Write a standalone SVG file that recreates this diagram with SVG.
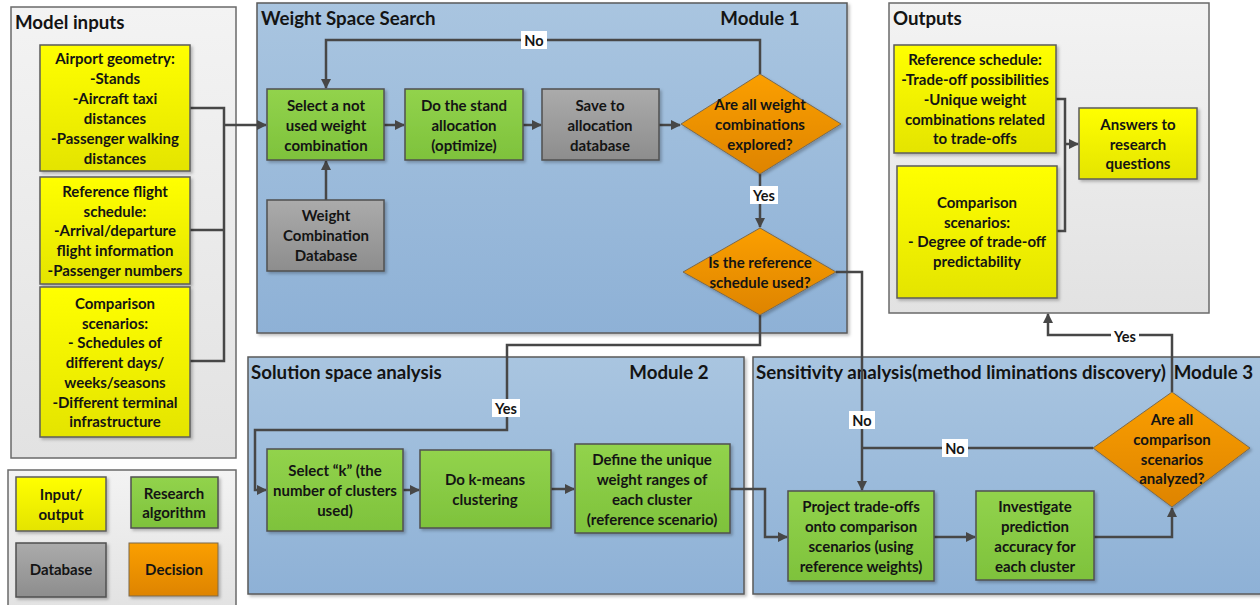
<svg xmlns="http://www.w3.org/2000/svg" width="1260" height="605" viewBox="0 0 1260 605">
  <defs>
    <linearGradient id="gYellow" x1="0" y1="0" x2="0" y2="1">
      <stop offset="0" stop-color="#ffff00"/>
      <stop offset="1" stop-color="#e4e400"/>
    </linearGradient>
    <linearGradient id="gGreen" x1="0" y1="0" x2="0" y2="1">
      <stop offset="0" stop-color="#92d34c"/>
      <stop offset="1" stop-color="#7ec23c"/>
    </linearGradient>
    <linearGradient id="gGray" x1="0" y1="0" x2="0" y2="1">
      <stop offset="0" stop-color="#ababab"/>
      <stop offset="1" stop-color="#8d8d8d"/>
    </linearGradient>
    <linearGradient id="gOrange" x1="0" y1="0" x2="0" y2="1">
      <stop offset="0" stop-color="#fb9f00"/>
      <stop offset="1" stop-color="#de8400"/>
    </linearGradient>
    <linearGradient id="gBlue" x1="0" y1="0" x2="0" y2="1">
      <stop offset="0" stop-color="#a9c5e0"/>
      <stop offset="1" stop-color="#8eb1d6"/>
    </linearGradient>
    <linearGradient id="gPanel" x1="0" y1="0" x2="0" y2="1">
      <stop offset="0" stop-color="#f3f3f3"/>
      <stop offset="1" stop-color="#e2e2e2"/>
    </linearGradient>
    <filter id="shadow" x="-10%" y="-10%" width="130%" height="130%">
      <feDropShadow dx="2" dy="2" stdDeviation="1.5" flood-color="#000" flood-opacity="0.25"/>
    </filter>
    <marker id="arrow" viewBox="0 0 10 10" refX="9" refY="5" markerWidth="4" markerHeight="4" orient="auto" markerUnits="strokeWidth">
      <path d="M0,0 L10,5 L0,10 z" fill="#474747"/>
    </marker>
  </defs>
  <style>
    text { font-family: Lato, "Liberation Sans", sans-serif; font-weight: bold; fill: #141414; }
    .t { font-size: 15px; text-anchor: middle; dominant-baseline: central; }
    .title { font-size: 18.7px; dominant-baseline: central; }
    .lbl { font-size: 14.5px; text-anchor: middle; dominant-baseline: central; }
    .panel { fill: url(#gPanel); stroke: #6a6a6a; stroke-width: 1.5; }
    .module { fill: url(#gBlue); stroke: #5a5a5a; stroke-width: 1.5; filter: url(#shadow); }
    .io { fill: url(#gYellow); stroke: #5c5c5c; stroke-width: 1.5; filter: url(#shadow); }
    .alg { fill: url(#gGreen); stroke: #505050; stroke-width: 1.5; filter: url(#shadow); }
    .db { fill: url(#gGray); stroke: #505050; stroke-width: 1.5; filter: url(#shadow); }
    .dec { fill: url(#gOrange); stroke: #7a6a50; stroke-width: 1; filter: url(#shadow); }
    .c { fill: none; stroke: #474747; stroke-width: 2.5; }
    .ca { fill: none; stroke: #474747; stroke-width: 2.5; marker-end: url(#arrow); }
    .lblbg { fill: #ffffff; }
  </style>

  <!-- Containers -->
  <g id="model-inputs-panel">
    <rect class="panel" x="11" y="7" width="225" height="451"/>
    <text class="title" x="15" y="22">Model inputs</text>
  </g>
  <g id="legend-panel">
    <rect class="panel" x="8" y="470" width="228" height="140"/>
  </g>
  <g id="module1">
    <rect class="module" x="257" y="3" width="590" height="330"/>
    <text class="title" x="261" y="18">Weight Space Search</text>
    <text class="title" x="760" y="18" text-anchor="middle">Module 1</text>
  </g>
  <g id="outputs-panel">
    <rect class="panel" x="889" y="3" width="320" height="310"/>
    <text class="title" x="893" y="18">Outputs</text>
  </g>
  <g id="module2">
    <rect class="module" x="248" y="357" width="496" height="237"/>
    <text class="title" x="251" y="372">Solution space analysis</text>
    <text class="title" x="669" y="372" text-anchor="middle">Module 2</text>
  </g>
  <g id="module3">
    <rect class="module" x="753" y="357" width="515" height="237"/>
    <text class="title" x="756" y="372">Sensitivity analysis(method liminations discovery)</text>
    <text class="title" x="1253" y="372" text-anchor="end">Module 3</text>
  </g>

  <!-- Connectors -->
  <g id="connectors">
    <!-- model inputs merge -->
    <polyline class="c" points="190,108 224,108 224,361 190,361"/>
    <line class="c" x1="190" y1="230" x2="224" y2="230"/>
    <line class="ca" x1="224" y1="125" x2="266" y2="125"/>
    <!-- module 1 -->
    <line class="ca" x1="384" y1="125" x2="404" y2="125"/>
    <line class="ca" x1="523" y1="125" x2="541" y2="125"/>
    <line class="ca" x1="659" y1="125" x2="680" y2="125"/>
    <line class="ca" x1="326" y1="200" x2="326" y2="161"/>
    <polyline class="ca" points="760,74 760,40 326,40 326,88"/>
    <line class="ca" x1="760" y1="174" x2="760" y2="227"/>
    <!-- reference schedule used? -->
    <polyline class="ca" points="760,315 760,345 507,345 507,430 255,430 255,490 266,490"/>
    <polyline class="ca" points="836,272 862,272 862,490"/>
    <!-- module 2 -->
    <line class="ca" x1="403" y1="490" x2="419" y2="490"/>
    <line class="ca" x1="551" y1="489" x2="574" y2="489"/>
    <polyline class="ca" points="730,489 765,489 765,537 787,537"/>
    <!-- module 3 -->
    <line class="ca" x1="934" y1="537" x2="975" y2="537"/>
    <polyline class="ca" points="1094,537 1172,537 1172,508"/>
    <polyline class="c" points="1093,448 862,448"/>
    <polyline class="ca" points="1172,392 1172,335 1048,335 1048,314"/>
    <!-- outputs merge -->
    <polyline class="c" points="1056,99 1065,99 1065,231 1057,231"/>
    <line class="ca" x1="1065" y1="144" x2="1078" y2="144"/>
    <!-- branch labels -->
    <rect class="lblbg" x="521" y="31" width="26" height="18"/>
    <text class="lbl" x="534" y="40">No</text>
    <rect class="lblbg" x="750" y="186" width="28" height="18"/>
    <text class="lbl" x="764" y="195">Yes</text>
    <rect class="lblbg" x="492" y="399" width="28" height="18"/>
    <text class="lbl" x="506" y="408">Yes</text>
    <rect class="lblbg" x="849" y="411" width="26" height="18"/>
    <text class="lbl" x="862" y="420">No</text>
    <rect class="lblbg" x="942" y="439" width="26" height="18"/>
    <text class="lbl" x="955" y="448">No</text>
    <rect class="lblbg" x="1111" y="327" width="28" height="18"/>
    <text class="lbl" x="1125" y="336">Yes</text>
  </g>

  <!-- Model inputs -->
  <g id="airport-geometry">
    <rect class="io" x="40" y="45" width="150" height="126"/>
    <text class="t" x="115" y="58">Airport geometry:</text>
    <text class="t" x="115" y="78">-Stands</text>
    <text class="t" x="115" y="98">-Aircraft taxi</text>
    <text class="t" x="115" y="118">distances</text>
    <text class="t" x="115" y="138">-Passenger walking</text>
    <text class="t" x="115" y="158">distances</text>
  </g>
  <g id="reference-flight-schedule">
    <rect class="io" x="40" y="177" width="150" height="107"/>
    <text class="t" x="115" y="191">Reference flight</text>
    <text class="t" x="115" y="211">schedule:</text>
    <text class="t" x="115" y="230">-Arrival/departure</text>
    <text class="t" x="115" y="250">flight information</text>
    <text class="t" x="115" y="270">-Passenger numbers</text>
  </g>
  <g id="comparison-scenarios-input">
    <rect class="io" x="40" y="287" width="150" height="150"/>
    <text class="t" x="115" y="303">Comparison</text>
    <text class="t" x="115" y="323">scenarios:</text>
    <text class="t" x="115" y="342">- Schedules of</text>
    <text class="t" x="115" y="362">different days/</text>
    <text class="t" x="115" y="382">weeks/seasons</text>
    <text class="t" x="115" y="402">-Different terminal</text>
    <text class="t" x="115" y="421">infrastructure</text>
  </g>

  <!-- Legend -->
  <g id="legend-io">
    <rect class="io" x="16" y="477" width="90" height="54"/>
    <text class="t" x="61" y="494">Input/</text>
    <text class="t" x="61" y="514">output</text>
  </g>
  <g id="legend-algorithm">
    <rect class="alg" x="131" y="477" width="87" height="51"/>
    <text class="t" x="174" y="493">Research</text>
    <text class="t" x="174" y="512">algorithm</text>
  </g>
  <g id="legend-database">
    <rect class="db" x="16" y="543" width="90" height="54"/>
    <text class="t" x="61" y="569">Database</text>
  </g>
  <g id="legend-decision">
    <rect class="dec" x="129" y="543" width="89" height="53" stroke="#505050" stroke-width="1.5"/>
    <text class="t" x="174" y="569">Decision</text>
  </g>

  <!-- Module 1 nodes -->
  <g id="select-weight">
    <rect class="alg" x="267" y="89" width="117" height="71"/>
    <text class="t" x="326" y="105">Select a not</text>
    <text class="t" x="326" y="125">used weight</text>
    <text class="t" x="326" y="145">combination</text>
  </g>
  <g id="stand-allocation">
    <rect class="alg" x="405" y="89" width="118" height="71"/>
    <text class="t" x="464" y="105">Do the stand</text>
    <text class="t" x="464" y="125">allocation</text>
    <text class="t" x="464" y="145">(optimize)</text>
  </g>
  <g id="save-allocation">
    <rect class="db" x="542" y="89" width="117" height="71"/>
    <text class="t" x="600" y="105">Save to</text>
    <text class="t" x="600" y="125">allocation</text>
    <text class="t" x="600" y="145">database</text>
  </g>
  <g id="weight-combination-db">
    <rect class="db" x="267" y="200" width="117" height="71"/>
    <text class="t" x="326" y="215">Weight</text>
    <text class="t" x="326" y="235">Combination</text>
    <text class="t" x="326" y="255">Database</text>
  </g>
  <g id="all-explored">
    <polygon class="dec" points="760,74 841,124 760,174 681,124"/>
    <text class="t" x="760" y="104">Are all weight</text>
    <text class="t" x="760" y="124">combinations</text>
    <text class="t" x="760" y="144">explored?</text>
  </g>
  <g id="reference-used">
    <polygon class="dec" points="760,228 836,272 760,315 683,272"/>
    <text class="t" x="760" y="262">Is the reference</text>
    <text class="t" x="760" y="282">schedule used?</text>
  </g>

  <!-- Outputs nodes -->
  <g id="reference-schedule-output">
    <rect class="io" x="894" y="45" width="162" height="108"/>
    <text class="t" x="975" y="59">Reference schedule:</text>
    <text class="t" x="975" y="79">-Trade-off possibilities</text>
    <text class="t" x="975" y="99">-Unique weight</text>
    <text class="t" x="975" y="119">combinations related</text>
    <text class="t" x="975" y="138">to trade-offs</text>
  </g>
  <g id="comparison-scenarios-output">
    <rect class="io" x="897" y="166" width="160" height="132"/>
    <text class="t" x="977" y="202">Comparison</text>
    <text class="t" x="977" y="222">scenarios:</text>
    <text class="t" x="977" y="241">- Degree of trade-off</text>
    <text class="t" x="977" y="261">predictability</text>
  </g>
  <g id="answers">
    <rect class="io" x="1079" y="108" width="118" height="71"/>
    <text class="t" x="1138" y="124">Answers to</text>
    <text class="t" x="1138" y="144">research</text>
    <text class="t" x="1138" y="163">questions</text>
  </g>

  <!-- Module 2 nodes -->
  <g id="select-k">
    <rect class="alg" x="267" y="449" width="136" height="82"/>
    <text class="t" x="335" y="470">Select “k” (the</text>
    <text class="t" x="335" y="490">number of clusters</text>
    <text class="t" x="335" y="510">used)</text>
  </g>
  <g id="k-means">
    <rect class="alg" x="420" y="450" width="131" height="78"/>
    <text class="t" x="485" y="479">Do k-means</text>
    <text class="t" x="485" y="499">clustering</text>
  </g>
  <g id="define-ranges">
    <rect class="alg" x="575" y="444" width="155" height="89"/>
    <text class="t" x="652" y="459">Define the unique</text>
    <text class="t" x="652" y="479">weight ranges of</text>
    <text class="t" x="652" y="499">each cluster</text>
    <text class="t" x="652" y="519">(reference scenario)</text>
  </g>

  <!-- Module 3 nodes -->
  <g id="project-tradeoffs">
    <rect class="alg" x="788" y="491" width="146" height="90"/>
    <text class="t" x="861" y="506">Project trade-offs</text>
    <text class="t" x="861" y="526">onto comparison</text>
    <text class="t" x="861" y="546">scenarios (using</text>
    <text class="t" x="861" y="566">reference weights)</text>
  </g>
  <g id="investigate-accuracy">
    <rect class="alg" x="976" y="491" width="118" height="89"/>
    <text class="t" x="1035" y="506">Investigate</text>
    <text class="t" x="1035" y="526">prediction</text>
    <text class="t" x="1035" y="546">accuracy for</text>
    <text class="t" x="1035" y="566">each cluster</text>
  </g>
  <g id="all-analyzed">
    <polygon class="dec" points="1172,392 1250,448 1172,507 1093,448"/>
    <text class="t" x="1172" y="419">Are all</text>
    <text class="t" x="1172" y="439">comparison</text>
    <text class="t" x="1172" y="459">scenarios</text>
    <text class="t" x="1172" y="478">analyzed?</text>
  </g>
</svg>
